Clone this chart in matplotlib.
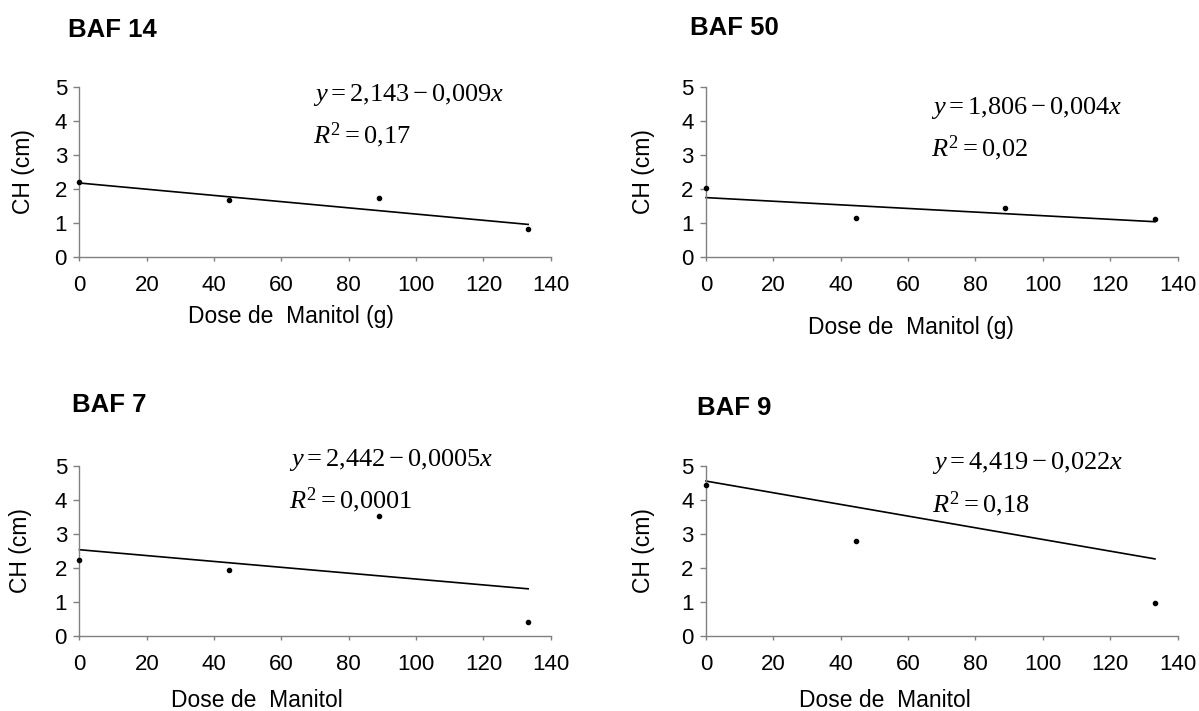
import numpy as np
import matplotlib
matplotlib.use("Agg")
import matplotlib.pyplot as plt

plt.rcParams['font.family'] = ['Liberation Sans', 'DejaVu Sans']
plt.rcParams['mathtext.fontset'] = 'custom'
plt.rcParams['mathtext.rm'] = 'Liberation Serif'
plt.rcParams['mathtext.it'] = 'Liberation Serif:italic'

# data
titles = ["BAF 14", "BAF 50", "BAF 7", "BAF 9"]
dose = [[0, 44.4, 88.9, 133.3],
        [0, 44.4, 88.9, 133.3],
        [0, 44.4, 88.9, 133.3],
        [0, 44.4, 133.3]]
ch = [[2.19, 1.67, 1.72, 0.81],
      [2.01, 1.13, 1.42, 1.12],
      [2.22, 1.92, 3.52, 0.39],
      [4.44, 2.78, 0.96]]
# fitted line as drawn (intercept, slope)
fit_a = [2.17, 1.74, 2.53, 4.55]
fit_b = [-0.00915, -0.00533, -0.00863, -0.01718]
eq_text = [r"$y = 2{,}143 - 0{,}009x$", r"$y = 1{,}806 - 0{,}004x$",
           r"$y = 2{,}442 - 0{,}0005x$", r"$y = 4{,}419 - 0{,}022x$"]
r2_text = [r"$R^2 = 0{,}17$", r"$R^2 = 0{,}02$",
           r"$R^2 = 0{,}0001$", r"$R^2 = 0{,}18$"]
xlabels = ["Dose de  Manitol (g)", "Dose de  Manitol (g)",
           "Dose de  Manitol", "Dose de  Manitol"]

# layout
rects = [[0.0663, 0.639, 0.393, 0.2387],
         [0.5888, 0.639, 0.3933, 0.2387],
         [0.0663, 0.1059, 0.393, 0.239],
         [0.5888, 0.1059, 0.3933, 0.239]]
title_pos = [(0.0565, 0.9475), (0.5755, 0.9508), (0.0598, 0.421), (0.581, 0.4163)]
eq_pos = [(0.495, 0.918, 0.668), (0.477, 0.84, 0.589),
          (0.445, 1.0, 0.749), (0.48, 0.979, 0.724)]
xlab_pos = [(0.449, -0.285), (0.435, -0.35), (0.377, -0.315), (0.38, -0.315)]
ylab_x = [-0.095, -0.108, -0.1, -0.108]

fig = plt.figure(figsize=(11.99, 7.11), dpi=100)

for i in range(4):
    ax = fig.add_axes(rects[i])
    x = np.array(dose[i])
    ax.plot(x, ch[i], 'o', color='black', markersize=3, clip_on=False, zorder=3)
    xl = np.array([x[0], x[-1]])
    ax.plot(xl, fit_a[i] + fit_b[i] * xl, color='black', lw=1.2, clip_on=False)

    ax.set_xlim(0, 140)
    ax.set_ylim(0, 5)
    ax.set_xticks(range(0, 141, 20))
    ax.set_yticks(range(0, 6))
    for s in ['top', 'right']:
        ax.spines[s].set_visible(False)
    for s in ['left', 'bottom']:
        ax.spines[s].set_color('#808080')
        ax.spines[s].set_linewidth(1.0)
    ax.tick_params(axis='x', direction='out', length=3, width=1, color='#808080',
                   labelsize=16, pad=10)
    ax.tick_params(axis='y', direction='out', length=4, width=1, color='#808080',
                   labelsize=16, pad=5)

    ax.set_ylabel("CH (cm)", fontsize=16.5)
    ax.yaxis.set_label_coords(ylab_x[i], 0.5)
    ax.set_xlabel(xlabels[i], fontsize=16.5)
    ax.xaxis.set_label_coords(*xlab_pos[i])

    ex, ey1, ey2 = eq_pos[i]
    ax.text(ex, ey1, eq_text[i], transform=ax.transAxes, fontsize=19,
            ha='left', va='baseline')
    ax.text(ex, ey2, r2_text[i], transform=ax.transAxes, fontsize=19,
            ha='left', va='baseline')

    fig.text(title_pos[i][0], title_pos[i][1], titles[i], fontsize=18.5,
             fontweight='bold', ha='left', va='baseline')

fig.savefig("out.png", dpi=100)
